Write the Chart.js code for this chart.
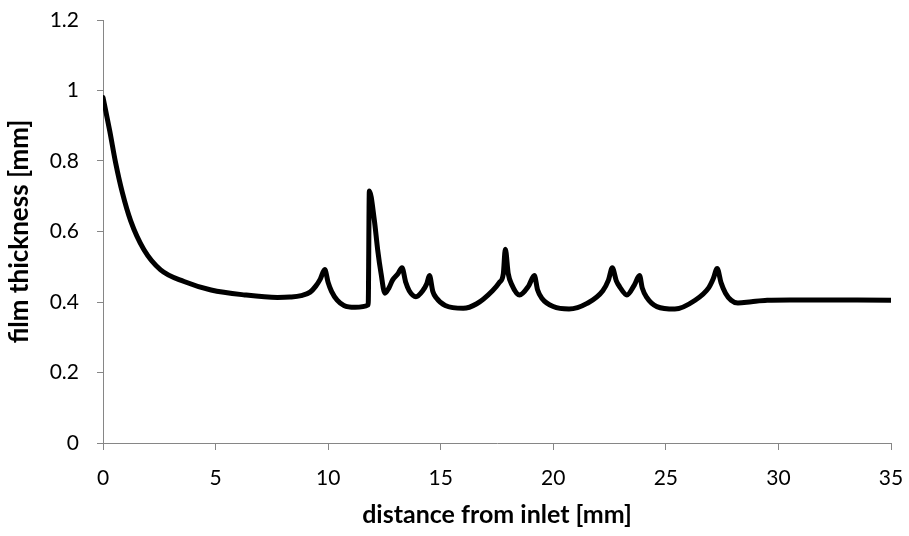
<!DOCTYPE html>
<html>
<head>
<meta charset="utf-8">
<script src="https://cdn.jsdelivr.net/npm/chart.js@4.4.0/dist/chart.umd.min.js"></script>
<style>
  html, body { margin: 0; padding: 0; background: #fff; }
  #wrap { width: 909px; height: 536px; }
</style>
</head>
<body>
<div id="wrap"><canvas id="filmChart" width="909" height="536"></canvas></div>
<script>
// film thickness profile
const distance = [0, 0.3, 0.56, 0.86, 1.23, 1.82, 2.56, 3.6, 4.8, 6.3, 7.75, 8.3, 8.8, 9.2, 9.45, 9.65, 9.85,
  10.0, 10.15, 10.4, 10.7, 11.2, 11.78, 11.83, 12.05, 12.2, 12.35, 12.52, 12.7, 12.86, 13.1, 13.28, 13.45, 13.6, 13.9,
  14.2, 14.38, 14.5, 14.65, 14.8, 15.2, 16.0, 16.6, 17.3, 17.6, 17.78, 17.87, 18.0, 18.15, 18.5, 18.9, 19.16, 19.3, 19.5,
  20.0, 20.7, 21.5, 22.2, 22.45, 22.62, 22.8, 22.95, 23.27, 23.6, 23.83, 23.95, 24.15, 24.6, 25.4, 26.3, 26.9, 27.1,
  27.28, 27.45, 27.65, 27.9, 28.2, 28.8, 29.5, 30.5, 35];
const thickness = [0.98, 0.885, 0.795, 0.71, 0.63, 0.548, 0.491, 0.458, 0.434, 0.420, 0.413, 0.414, 0.418, 0.428, 0.445, 0.465, 0.492,
  0.455, 0.43, 0.405, 0.39, 0.385, 0.392, 0.715, 0.633, 0.548, 0.481, 0.425, 0.44, 0.462, 0.48, 0.497, 0.455, 0.432, 0.415,
  0.432, 0.452, 0.475, 0.43, 0.412, 0.39, 0.382, 0.395, 0.432, 0.455, 0.48, 0.55, 0.48, 0.45, 0.42, 0.445, 0.475, 0.435, 0.41,
  0.387, 0.38, 0.396, 0.432, 0.462, 0.497, 0.46, 0.443, 0.42, 0.448, 0.475, 0.44, 0.413, 0.387, 0.38, 0.405, 0.44, 0.465,
  0.495, 0.455, 0.425, 0.405, 0.397, 0.401, 0.405, 0.406, 0.405];

const xTicks = [0, 5, 10, 15, 20, 25, 30, 35];
const yTicks = [0, 0.2, 0.4, 0.6, 0.8, 1, 1.2];

const axisGrey = '#868686';
const fontFamily = 'Lato, "Open Sans", sans-serif';

const points = distance.map((d, i) => ({ x: d, y: thickness[i] }));

new Chart(document.getElementById('filmChart').getContext('2d'), {
    type: 'scatter',
    data: {
        datasets: [{
            data: points,
            showLine: true,
            borderColor: '#000',
            borderWidth: 5,
            pointRadius: 0,
            cubicInterpolationMode: 'monotone',
            borderCapStyle: 'round',
            borderJoinStyle: 'round'
        }]
    },
    options: {
        responsive: false,
        animation: false,
        layout: { padding: { top: 20, right: 18, left: 0, bottom: 0 } },
        plugins: { legend: { display: false }, tooltip: { enabled: false } },
        scales: {
            x: {
                type: 'linear',
                min: 0,
                max: 35,
                afterBuildTicks: scale => { scale.ticks = xTicks.map(v => ({ value: v })); },
                afterFit: scale => {
                    scale.height = 93;
                    scale.paddingLeft = 0;
                    scale.paddingRight = 0;
                },
                grid: { drawOnChartArea: false, drawTicks: true, tickLength: 7, color: axisGrey },
                border: { color: axisGrey, width: 1 },
                ticks: { color: '#000', font: { family: fontFamily, size: 21 }, padding: 16, maxRotation: 0 },
                title: {
                    display: true,
                    text: 'distance from inlet [mm]',
                    color: '#000',
                    font: { family: fontFamily, size: 25, weight: 'bold' },
                    padding: { top: 0, bottom: 6 }
                }
            },
            y: {
                type: 'linear',
                min: 0,
                max: 1.2,
                afterBuildTicks: scale => { scale.ticks = yTicks.map(v => ({ value: v })); },
                afterFit: scale => {
                    scale.width = 103;
                    scale.paddingTop = 0;
                    scale.paddingBottom = 0;
                },
                grid: { drawOnChartArea: false, drawTicks: true, tickLength: 6, color: axisGrey },
                border: { color: axisGrey, width: 1 },
                ticks: {
                    color: '#000',
                    font: { family: fontFamily, size: 21 },
                    padding: 18,
                    callback: v => String(Math.round(v * 10) / 10)
                },
                title: {
                    display: true,
                    text: 'film thickness [mm]',
                    color: '#000',
                    font: { family: fontFamily, size: 26, weight: 'bold' },
                    padding: { top: 4, bottom: 0 }
                }
            }
        }
    }
});
</script>
</body>
</html>
